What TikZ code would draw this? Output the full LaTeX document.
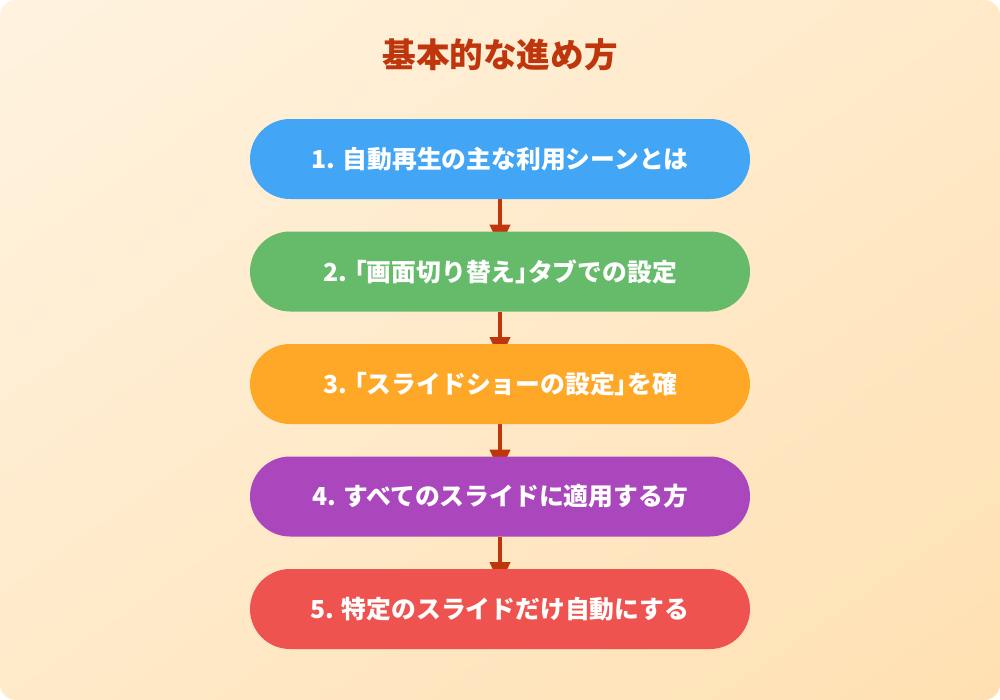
\documentclass[tikz,border=0pt]{standalone}
\usepackage{fontspec}
\setmainfont{Noto Sans CJK JP}
\usetikzlibrary{arrows.meta,shadings}
\definecolor{bgA}{HTML}{FFF3E0}
\definecolor{bgB}{HTML}{FFE0B2}
\definecolor{titlec}{HTML}{BF360C}
\definecolor{arrc}{HTML}{BF360C}
\definecolor{c1}{HTML}{42A5F5}
\definecolor{c2}{HTML}{66BB6A}
\definecolor{c3}{HTML}{FFA726}
\definecolor{c4}{HTML}{AB47BC}
\definecolor{c5}{HTML}{EF5350}
\newcommand\halfw[1]{{\addfontfeature{RawFeature=+halt}#1}}
\pgfdeclarelayer{bg}
\pgfdeclarelayer{back}
\pgfsetlayers{bg,back,main}
\tikzset{
  stepbox/.style={draw=none, minimum width=500*0.75pt, minimum height=80*0.75pt,
    rounded corners=40*0.75pt, text=white, font=\fontsize{18.6}{22}\selectfont\bfseries, inner sep=0pt},
  flowarrow/.style={draw=arrc, line width=3pt, -{Triangle[length=17pt,width=15pt]}},
}
\begin{document}
\begin{tikzpicture}[x=0.75pt,y=-0.75pt]
\useasboundingbox (0,0) rectangle (1000,700);
\begin{pgfonlayer}{bg}
\fill[white] (0,0) rectangle (1000,700);
\shade[rounded corners=12pt, upper left=bgA, lower right=bgB, upper right=bgA!50!bgB, lower left=bgA!50!bgB] (0,0) rectangle (1000,700);
\end{pgfonlayer}
\node[text=titlec, font=\fontsize{25.2}{30}\selectfont\bfseries] (title) at (500,55) {基本的な進め方};
\node[stepbox, fill=c1] (s1) at (500,159) {1. 自動再生の主な利用シーンとは};
\node[stepbox, fill=c2] (s2) at (500,271.5) {2. \halfw{「}画面切り替え\halfw{」}タブでの設定};
\node[stepbox, fill=c3] (s3) at (500,384) {3. \halfw{「}スライドショーの設定\halfw{」}を確};
\node[stepbox, fill=c4] (s4) at (500,496.5) {4. すべてのスライドに適用する方};
\node[stepbox, fill=c5] (s5) at (500,609) {5. 特定のスライドだけ自動にする};
\begin{pgfonlayer}{back}
\foreach \a/\b in {s1/s2,s2/s3,s3/s4,s4/s5}{
  \path[flowarrow] (\a.south) -- ([yshift=-16*0.75pt]\b.north);
}
\end{pgfonlayer}
\end{tikzpicture}
\end{document}
